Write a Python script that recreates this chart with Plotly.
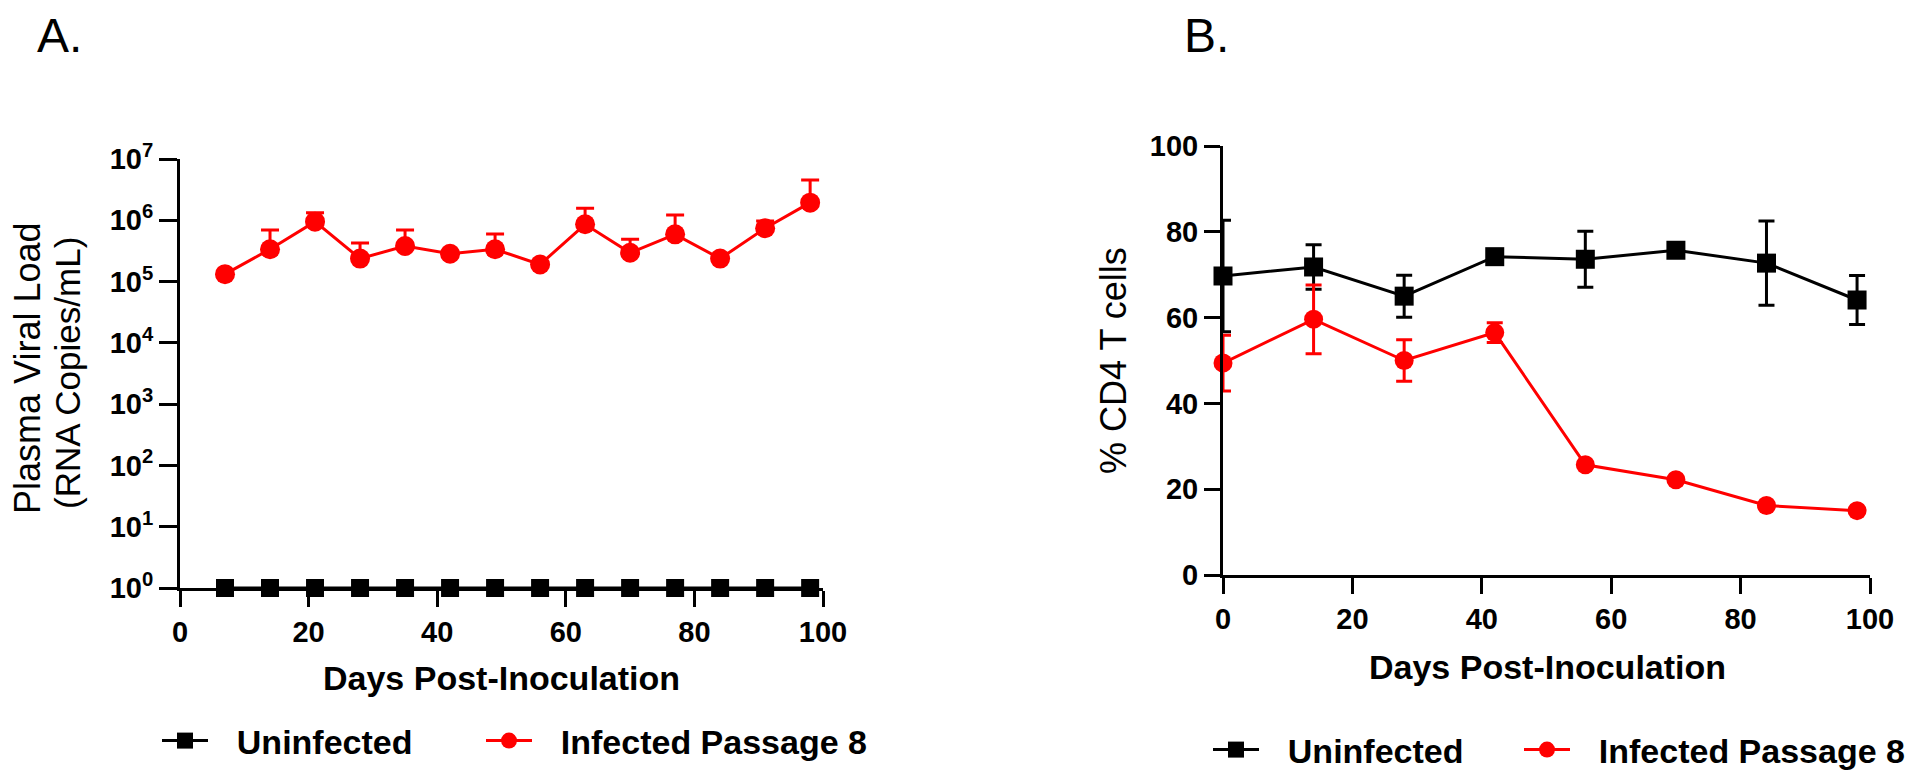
import plotly.graph_objects as go

# ---------------- data ----------------
days_a = [7, 14, 21, 28, 35, 42, 49, 56, 63, 70, 77, 84, 91, 98]
vl_uninfected = [1, 1, 1, 1, 1, 1, 1, 1, 1, 1, 1, 1, 1, 1]
vl_infected = [1.32e5, 3.37e5, 9.5e5, 2.37e5, 3.8e5, 2.85e5, 3.37e5, 1.9e5,
               8.6e5, 2.95e5, 5.9e5, 2.37e5, 7.4e5, 1.94e6]
vl_infected_err = [5e3, 3.6e5, 3.8e5, 1.9e5, 3.15e5, 2.5e4, 2.6e5, 1e4,
                   7.1e5, 1.95e5, 6.3e5, 1e4, 2.3e5, 2.6e6]

days_b = [0, 14, 28, 42, 56, 70, 84, 98]
cd4_uninfected = [69.7, 71.8, 65.0, 74.2, 73.6, 75.7, 72.7, 64.1]
cd4_uninfected_err = [13.0, 5.2, 4.9, 1.2, 6.5, 0.8, 9.8, 5.7]
cd4_infected = [49.4, 59.6, 50.0, 56.5, 25.7, 22.2, 16.2, 15.0]
cd4_infected_err = [6.5, 8.0, 4.85, 2.3, 0.5, 0.5, 0.5, 0.5]

x_ticks = [0, 20, 40, 60, 80, 100]
log_tickvals = [1, 10, 100, 1e3, 1e4, 1e5, 1e6, 1e7]
log_ticktext = ["10<sup>0</sup>", "10<sup>1</sup>", "10<sup>2</sup>", "10<sup>3</sup>",
                "10<sup>4</sup>", "10<sup>5</sup>", "10<sup>6</sup>", "10<sup>7</sup>"]
lin_ticks = [0, 20, 40, 60, 80, 100]

names = ["Uninfected", "Infected Passage 8"]
colors = ["#000000", "#ff0000"]

W, H = 1920, 782
OFF = 8  # the page body adds an 8px margin; positions below are screen pixels
FONT = "Arial, Liberation Sans, sans-serif"
GAP = "\u2002\u2009"  # visual gap between legend symbol and label

fig = go.Figure()

# ---- Panel A ----
fig.add_trace(go.Scatter(
    x=days_a, y=vl_uninfected, name=GAP + names[0], mode="lines+markers",
    line=dict(color=colors[0], width=3),
    marker=dict(symbol="square", size=18, color=colors[0]),
    xaxis="x", yaxis="y", legend="legend", cliponaxis=False))
fig.add_trace(go.Scatter(
    x=days_a, y=vl_infected, name=GAP + names[1], mode="lines+markers",
    line=dict(color=colors[1], width=3),
    marker=dict(symbol="circle", size=20, color=colors[1]),
    error_y=dict(type="data", array=vl_infected_err, symmetric=False,
                 arrayminus=[0] * len(vl_infected_err),
                 color=colors[1], thickness=3, width=9),
    xaxis="x", yaxis="y", legend="legend2", cliponaxis=False))

# ---- Panel B ----
fig.add_trace(go.Scatter(
    x=days_b, y=cd4_uninfected, name=GAP + names[0], mode="lines+markers",
    line=dict(color=colors[0], width=3),
    marker=dict(symbol="square", size=19, color=colors[0]),
    error_y=dict(type="data", array=cd4_uninfected_err,
                 color=colors[0], thickness=3, width=8),
    xaxis="x2", yaxis="y2", legend="legend3", cliponaxis=False))
fig.add_trace(go.Scatter(
    x=days_b, y=cd4_infected, name=GAP + names[1], mode="lines+markers",
    line=dict(color=colors[1], width=3),
    marker=dict(symbol="circle", size=19, color=colors[1]),
    error_y=dict(type="data", array=cd4_infected_err,
                 color=colors[1], thickness=3, width=8),
    xaxis="x2", yaxis="y2", legend="legend4", cliponaxis=False))


def px_x(v):
    return (v - OFF) / W


def px_y(v):
    return 1 - (v - OFF) / H


axis_common = dict(showline=True, linecolor="black", linewidth=3,
                   ticks="outside", tickwidth=3, tickcolor="black",
                   showgrid=False, zeroline=False,
                   tickfont=dict(family=FONT, size=29, color="black", weight="bold"))


def legend_at(xpx, ypx):
    return dict(orientation="h", x=px_x(xpx), xanchor="left", y=px_y(ypx), yanchor="middle",
                font=dict(family=FONT, size=34, color="black", weight="bold"),
                itemwidth=46, bgcolor="rgba(0,0,0,0)", borderwidth=0)


fig.update_layout(
    width=W, height=H,
    margin=dict(l=0, r=0, t=0, b=0, autoexpand=False),
    paper_bgcolor="white", plot_bgcolor="white",
    xaxis=dict(domain=[px_x(180), px_x(823)], range=[0, 100], tickvals=x_ticks,
               ticklen=16, anchor="y", **axis_common),
    yaxis=dict(domain=[px_y(588), px_y(159)], type="log", range=[0, 7],
               tickvals=log_tickvals, ticktext=log_ticktext, ticklen=18,
               anchor="x", **axis_common),
    xaxis2=dict(domain=[px_x(1223), px_x(1870)], range=[0, 100], tickvals=x_ticks,
                ticklen=16, anchor="y2", **axis_common),
    yaxis2=dict(domain=[px_y(575), px_y(146)], range=[0, 100], tickvals=lin_ticks,
                ticklen=16, anchor="x2", **axis_common),
    legend=legend_at(157, 741),
    legend2=legend_at(481, 741),
    legend3=legend_at(1208, 750),
    legend4=legend_at(1519, 750),
    showlegend=True,
)

annotations = [
    dict(text="A.", x=px_x(35), y=px_y(36), xanchor="left", yanchor="middle",
         font=dict(family=FONT, size=48, color="black")),
    dict(text="B.", x=px_x(1182), y=px_y(36), xanchor="left", yanchor="middle",
         font=dict(family=FONT, size=48, color="black")),
    dict(text="Plasma Viral Load", x=px_x(28), y=px_y(368), textangle=-90,
         xanchor="center", yanchor="middle",
         font=dict(family=FONT, size=36, color="black")),
    dict(text="(RNA Copies/mL)", x=px_x(67), y=px_y(373), textangle=-90,
         xanchor="center", yanchor="middle",
         font=dict(family=FONT, size=35, color="black")),
    dict(text="% CD4 T cells", x=px_x(1114), y=px_y(361), textangle=-90,
         xanchor="center", yanchor="middle",
         font=dict(family=FONT, size=36, color="black")),
    dict(text="Days Post-Inoculation", x=px_x(502), y=px_y(678),
         xanchor="center", yanchor="middle",
         font=dict(family=FONT, size=34, color="black", weight="bold")),
    dict(text="Days Post-Inoculation", x=px_x(1547), y=px_y(667),
         xanchor="center", yanchor="middle",
         font=dict(family=FONT, size=34, color="black", weight="bold")),
]
for a in annotations:
    a.update(xref="paper", yref="paper", showarrow=False)
fig.update_layout(annotations=annotations)

fig.write_html("out.html")
